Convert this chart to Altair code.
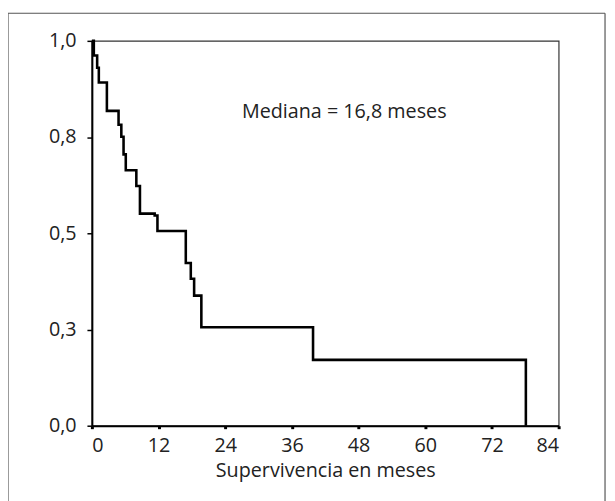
import altair as alt
import pandas as pd

# Kaplan-Meier survival curve (step-after)
months = [0, 0.35, 0.95, 1.25, 2.7, 4.8, 5.3, 5.7, 6.1, 8.0, 8.65, 11.3, 11.8, 16.9, 17.8, 18.4, 19.7, 39.8, 78.1, 78.1]
survival = [1.0, 0.962, 0.93, 0.892, 0.818, 0.782, 0.751, 0.705, 0.664, 0.623, 0.551, 0.546, 0.506, 0.423, 0.382, 0.338, 0.256, 0.171, 0.171, 0.0]

x_ticks = [0, 12, 24, 36, 48, 60, 72, 84]
y_ticks = [0, 0.25, 0.5, 0.75, 1.0]
y_tick_labels = ["0,0", "0,3", "0,5", "0,8", "1,0"]

annotation_text = ["Mediana = 16,8 meses"]
annotation_x = [27.0]
annotation_y = [0.80]

x_title = "Supervivencia en meses"
FONT = "Open Sans"
FS = 20

curve = pd.DataFrame({"t": months, "s": survival})
notes = pd.DataFrame({"label": annotation_text, "t": annotation_x, "s": annotation_y})
one = pd.DataFrame({"k": [0]})

label_expr = " : ".join(
    f"datum.value == {v} ? '{l}'" for v, l in zip(y_ticks, y_tick_labels)
) + " : ''"

x_enc = alt.X(
    "t:Q",
    scale=alt.Scale(domain=[0, 84], nice=False, zero=False),
    axis=alt.Axis(values=x_ticks, title=x_title, grid=False, tickSize=3, tickWidth=3,
                  labelPadding=7, titlePadding=5,
                  labelFont=FONT, labelFontSize=FS, labelColor="#222",
                  titleFont=FONT, titleFontSize=FS, titleColor="#222",
                  titleFontWeight="normal"),
)
y_enc = alt.Y(
    "s:Q",
    scale=alt.Scale(domain=[0, 1], nice=False, zero=False),
    axis=alt.Axis(values=y_ticks, labelExpr=label_expr, title=None, grid=False,
                  tickSize=5, tickWidth=1.5, labelPadding=11,
                  labelFont=FONT, labelFontSize=FS, labelColor="#222"),
)

line = alt.Chart(curve).mark_line(
    interpolate="step-after", color="black", strokeWidth=2.6
).encode(x=x_enc, y=y_enc)

text = alt.Chart(notes).mark_text(
    align="left", baseline="alphabetic", fontSize=FS, font=FONT, color="#222"
).encode(x="t:Q", y="s:Q", text="label:N")

frame_left = alt.Chart(one).mark_rule(color="#555", strokeWidth=1.2).encode(
    x=alt.value(-85), y=alt.value(-28), y2=alt.value(480)
)
frame_right = alt.Chart(one).mark_rule(color="#555", strokeWidth=1.2).encode(
    x=alt.value(520), y=alt.value(-28), y2=alt.value(480)
)
frame_top = alt.Chart(one).mark_rule(color="#555", strokeWidth=1.2).encode(
    x=alt.value(-85), x2=alt.value(520), y=alt.value(-28)
)

chart = alt.layer(line, text, frame_left, frame_right, frame_top).properties(
    width=473,
    height=390,
    background="white",
    autosize=alt.AutoSizeParams(type="none"),
    padding={"left": 85, "top": 30, "right": 49, "bottom": 73},
).configure_view(
    stroke="#333", strokeWidth=1.2
).configure_axis(
    domainColor="black", domainWidth=2, tickColor="black",
)

chart.save("out.html", embed_options={"renderer": "svg", "actions": False})
